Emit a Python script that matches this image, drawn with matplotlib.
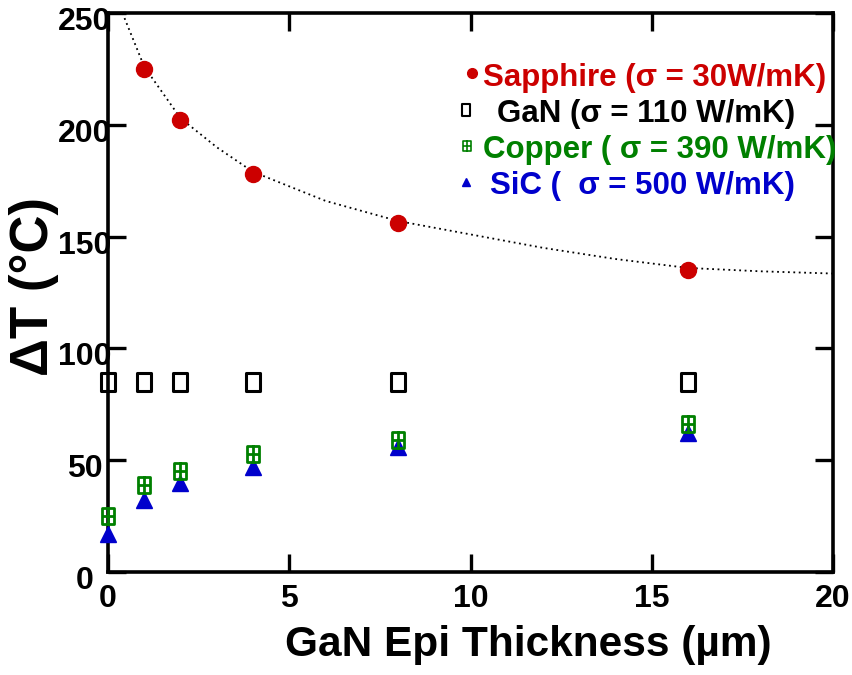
import matplotlib

matplotlib.use("Agg")
import matplotlib.pyplot as plt
from matplotlib.path import Path
from matplotlib.transforms import ScaledTranslation

NARROW = ["Liberation Sans Narrow", "Liberation Sans", "DejaVu Sans"]
WIDE = ["Liberation Sans", "DejaVu Sans"]
plt.rcParams["font.family"] = NARROW
plt.rcParams["font.weight"] = "bold"

SAPPHIRE = "#CC0000"
GAN = "#000000"
COPPER = "#008000"
SIC = "#0000CC"

thickness = [0, 1, 2, 4, 8, 16]
sapphire_x = [1, 2, 4, 8, 16]
sapphire_dt = [225, 202, 178, 156, 135]
gan_dt = [85, 85, 85, 85, 85, 85]
copper_dt = [25, 39, 45, 53, 59, 66]
sic_dt = [17, 32, 40, 47, 56, 62]

# dotted fit through the sapphire points
fit_x = [0.4, 1, 2, 3, 4, 6, 8, 10, 12, 14, 16, 18, 20]
fit_dt = [250, 226, 203, 190, 179, 166, 157, 151, 145, 140, 136, 134.5, 133.5]

legend_labels = [
    "Sapphire (\u03c3 = 30W/mK)",
    "GaN (\u03c3 = 110 W/mK)",
    "Copper ( \u03c3 = 390 W/mK)",
    "SiC (  \u03c3 = 500 W/mK)",
]

# tall open rectangle for GaN, rectangle with a cross inside for copper
tall_box = Path([(-0.8, -1), (0.8, -1), (0.8, 1), (-0.8, 1), (-0.8, -1)],
                [Path.MOVETO, Path.LINETO, Path.LINETO, Path.LINETO, Path.CLOSEPOLY])
grid_box = Path(
    [(-0.8, -1), (0.8, -1), (0.8, 1), (-0.8, 1), (-0.8, -1),
     (0, -1.15), (0, 1.15), (-0.8, 0), (0.8, 0)],
    [Path.MOVETO, Path.LINETO, Path.LINETO, Path.LINETO, Path.CLOSEPOLY,
     Path.MOVETO, Path.LINETO, Path.MOVETO, Path.LINETO],
)

fig = plt.figure(figsize=(8.53, 6.75), dpi=100)
ax = fig.add_axes([0.1266, 0.1526, 0.85, 0.828])

ax.plot(fit_x, fit_dt, color="black", linestyle=(0, (1, 2)), linewidth=1.3, zorder=2)
ax.plot(sapphire_x, sapphire_dt, "o", color=SAPPHIRE, markersize=11.5, zorder=3)
ax.plot(thickness, gan_dt, marker=tall_box, linestyle="none", markerfacecolor="none",
        markeredgecolor=GAN, markeredgewidth=2.2, markersize=13, zorder=3, clip_on=False)
ax.plot(thickness, sic_dt, "^", color=SIC, markersize=11, zorder=3, clip_on=False)
ax.plot(thickness, copper_dt, marker=grid_box, linestyle="none", markerfacecolor="none",
        markeredgecolor=COPPER, markeredgewidth=2, markersize=13, zorder=4, clip_on=False)

# legend as coloured text with a small marker in front
leg_markers = [
    dict(marker="o", color=SAPPHIRE, markersize=7),
    dict(marker=tall_box, markerfacecolor="none", markeredgecolor=GAN, markeredgewidth=1.5, markersize=8),
    dict(marker=grid_box, markerfacecolor="none", markeredgecolor=COPPER, markeredgewidth=1.2, markersize=8),
    dict(marker="^", color=SIC, markersize=6),
]
leg_colors = [SAPPHIRE, GAN, COPPER, SIC]
marker_x = [0.502, 0.494, 0.495, 0.494]
text_x = [0.517, 0.537, 0.517, 0.527]
for i, label in enumerate(legend_labels):
    y = 0.884 - i * 0.0645
    ax.plot([marker_x[i]], [y + 0.008], transform=ax.transAxes, linestyle="none",
            clip_on=False, **leg_markers[i])
    ax.text(text_x[i], y, label, transform=ax.transAxes, color=leg_colors[i],
            fontsize=22.5, fontweight="bold", family=WIDE, va="center", ha="left")

ax.set_xlim(0, 20)
ax.set_ylim(0, 250)
ax.set_xticks([0, 5, 10, 15, 20])
ax.set_yticks([0, 50, 100, 150, 200, 250])
ax.tick_params(direction="in", length=13, width=2.4, top=True, right=True, labelsize=23)
ax.tick_params(axis="x", pad=9)
ax.tick_params(axis="y", pad=17)
for s in ax.spines.values():
    s.set_linewidth(2.6)

# y tick labels are centred in their column and sit a little below their ticks
shift = ScaledTranslation(0, -4 / 72, fig.dpi_scale_trans)
for lab in ax.get_yticklabels():
    lab.set_horizontalalignment("center")
    lab.set_transform(lab.get_transform() + shift)

ax.set_xlabel("GaN Epi Thickness (\u00b5m)", fontsize=30.5, fontweight="bold", family=WIDE)
ax.xaxis.set_label_coords(0.58, -0.095)
ax.set_ylabel("\u0394T (\u00b0C)", fontsize=38, fontweight="bold", family=WIDE)
ax.yaxis.set_label_coords(-0.068, 0.51)

fig.savefig("out.png", dpi=100)
